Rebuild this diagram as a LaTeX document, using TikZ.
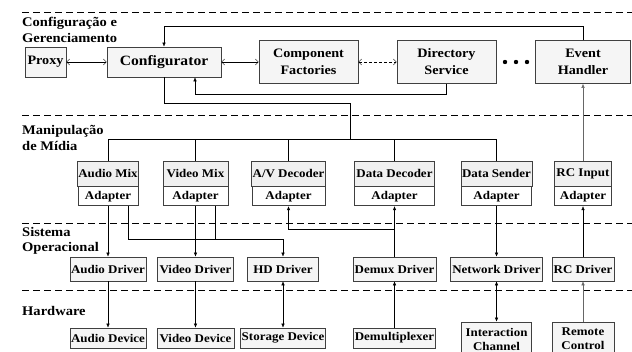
\documentclass[tikz,border=0pt]{standalone}
\usepackage{fontspec}
\setmainfont[FakeStretch=1.1]{Liberation Serif}
\usetikzlibrary{arrows.meta}

\begin{document}
\begin{tikzpicture}[x=1pt,y=-1pt,
    box/.style={draw=black!75,fill=black!4,line width=.8pt,inner sep=1pt,
        font=\bfseries\fontsize{11.8}{14}\selectfont},
    arr/.style={-{Latex[length=4pt,width=3.5pt]}},
    darr/.style={{Latex[length=4pt,width=3.5pt]}-{Latex[length=4pt,width=3.5pt]}},
    oarr/.style={{Straight Barb[length=3pt,width=6pt]}-{Straight Barb[length=3pt,width=6pt]}}]
    \tikzstyle{topbox}=[box,minimum height=30pt,font=\bfseries\fontsize{12.9}{17}\selectfont]
    \tikzstyle{bigbox}=[box,minimum height=43pt,align=center,font=\bfseries\fontsize{12.9}{17}\selectfont]
    \tikzstyle{mix}=[box,minimum height=25pt,fill=black!6]
    \tikzstyle{adapter}=[box,minimum height=19pt,fill=white,anchor=north]
    \tikzstyle{driver}=[box,minimum height=24pt]
    \tikzstyle{device}=[box,minimum height=20pt]
    \tikzstyle{layer}=[anchor=west,align=left,inner sep=0pt,font=\bfseries\fontsize{13.2}{15.5}\selectfont]
    \tikzstyle{sep}=[dash pattern=on 7pt off 4pt,line width=1pt]

    \useasboundingbox (0,0) rectangle (632,352);
    \foreach \y in {13,116,224,291} \draw[sep] (22,\y) -- (632,\y);

    \node[layer] (cfglabel) at (22,30) {Configuração e\\Gerenciamento};
    \node[layer] (mmlabel) at (22,138) {Manipulação\\de Mídia};
    \node[layer] (oslabel) at (22,241) {Sistema\\Operacional};
    \node[layer] (hwlabel) at (22,311) {Hardware};

    \node[topbox,minimum width=41pt] (proxy) at (45.5,62) {Proxy};
    \node[topbox,minimum width=114pt,font=\bfseries\fontsize{14.2}{17}\selectfont] (config) at (164,62) {Configurator};
    \node[bigbox,minimum width=99pt] (factories) at (308.5,62) {Component\\Factories};
    \node[bigbox,minimum width=99pt] (directory) at (446.5,62) {Directory\\Service};
    \node[bigbox,minimum width=95pt] (handler) at (583,62) {Event\\Handler};
    \foreach \x in {505,516,527} \fill (\x,62) circle (2.2pt);

    \node[mix,minimum width=60pt] (audiomix) at (108,173.5) {Audio Mix};
    \node[adapter,minimum width=60pt] (audioad) at (audiomix.south) {Adapter};
    \node[mix,minimum width=65pt] (videomix) at (195.5,173.5) {Video Mix};
    \node[adapter,minimum width=65pt] (videoad) at (videomix.south) {Adapter};
    \node[mix,minimum width=73pt] (avmix) at (288.5,173.5) {A/V Decoder};
    \node[adapter,minimum width=73pt] (avad) at (avmix.south) {Adapter};
    \node[mix,minimum width=80pt] (datadecmix) at (394.5,173.5) {Data Decoder};
    \node[adapter,minimum width=80pt] (datadecad) at (datadecmix.south) {Adapter};
    \node[mix,minimum width=70pt] (datasendmix) at (496.5,173.5) {Data Sender};
    \node[adapter,minimum width=70pt] (datasendad) at (datasendmix.south) {Adapter};
    \node[mix,minimum width=57pt] (rcmix) at (583,173.5) {RC Input};
    \node[adapter,minimum width=57pt] (rcad) at (rcmix.south) {Adapter};

    \node[driver,minimum width=76pt] (audiodrv) at (108,269) {Audio Driver};
    \node[driver,minimum width=76pt] (videodrv) at (195.5,269) {Video Driver};
    \node[driver,minimum width=71pt] (hddrv) at (283,269) {HD Driver};
    \node[driver,minimum width=83pt] (demuxdrv) at (394.5,269) {Demux Driver};
    \node[driver,minimum width=92pt] (netdrv) at (496.5,269) {Network Driver};
    \node[driver,minimum width=62pt] (rcdrv) at (583,269) {RC Driver};

    \node[device,minimum width=76pt] (audiodev) at (108,338) {Audio Device};
    \node[device,minimum width=77pt] (videodev) at (195.5,338) {Video Device};
    \node[device,minimum width=84pt] (storage) at (283,338) {Storage Device};
    \node[device,minimum width=81pt] (demux) at (394.5,338) {Demultiplexer};
    \node[device,minimum width=70pt,minimum height=34pt,align=center] (interaction) at (496.5,339) {Interaction\\Channel};
    \node[device,minimum width=62pt,minimum height=34pt,align=center] (remote) at (583,339) {Remote\\Control};

    \draw[oarr] (proxy) -- (config);
    \draw[oarr] (config) -- (factories);
    \draw[oarr,densely dashed] (factories) -- (directory);
    \draw[arr] (handler.north) -- ++(0,-14) -| (config.north);
    \draw[arr] (directory.south) -- ++(0,10) -| ([xshift=31pt]config.south);

    \coordinate (bus) at (350,140);
    \draw (config.south) -- ++(0,26) -| (bus);
    \draw (audiomix.north) -- ++(0,-21) -| (datasendmix.north);
    \foreach \n in {videomix,avmix,datadecmix} \draw (\n.north) -- (\n.north |- bus);
    \draw[arr,black!60] (rcmix.north) -- (handler.south);

    \draw[arr] (audioad.south) -- (audiodrv.north);
    \draw[arr] ([xshift=20pt]audioad.south) -- ++(0,33) -| (hddrv.north);
    \draw ([xshift=20pt]videoad.south) -- ++(0,33);
    \draw[arr] (videoad.south) -- (videodrv.north);
    \draw[arr] (demuxdrv.north) -- (datadecad.south);
    \draw[arr] (demuxdrv.north) ++(0,-27) -| (avad.south);
    \draw[arr] (datasendad.south) -- (netdrv.north);
    \draw[arr] (rcdrv.north) -- (rcad.south);

    \draw[arr] (audiodrv) -- (audiodev);
    \draw[arr] (videodrv) -- (videodev);
    \draw[darr] (hddrv) -- (storage);
    \draw[arr] (demux) -- (demuxdrv);
    \draw[darr] (netdrv) -- (interaction);
    \draw[arr,black!60] (remote) -- (rcdrv);

\end{tikzpicture}
\end{document}
